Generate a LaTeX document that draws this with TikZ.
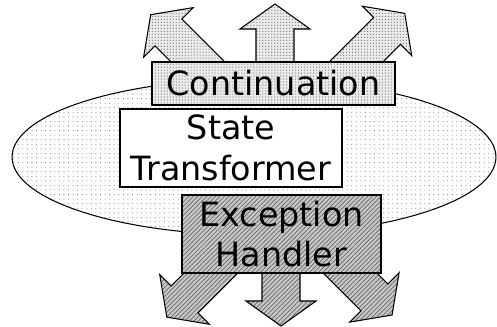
\documentclass[tikz,border=0pt]{standalone}
\usepackage{fontspec}
\setmainfont{DejaVu Sans}
\usetikzlibrary{patterns.meta, shapes.geometric}

\begin{document}
\begin{tikzpicture}[
  x=0.02cm, y=-0.02cm, line width=0.6pt,
  box/.style     = {draw, rectangle, inner sep=0pt, align=center,
                    font=\fontsize{19}{23}\selectfont},
  sparsedots/.style = {pattern={Dots[distance=2.6pt, radius=0.3pt]},
                    pattern color=black!50},
  densedots/.style  = {preaction={fill=black!8},
                    pattern={Dots[distance=1.7pt, radius=0.35pt]},
                    pattern color=black!55},
  hatched/.style    = {preaction={fill=black!22},
                    pattern={Lines[angle=45, distance=1.8pt, line width=0.4pt]},
                    pattern color=black!60},
  pics/fatarrow/.style 2 args = {code={
    \draw[#2] (0,-19) -- (#1-25,-19) -- (#1-25,-35) -- (#1,0)
      -- (#1-25,35) -- (#1-25,19) -- (0,19) -- cycle;}},
]
  \useasboundingbox (0,0) rectangle (497,327);

%--- background: the whole machine ---
  \node[ellipse, draw, sparsedots, minimum width=9.68cm, minimum height=3.12cm]
                                                  (world) at (254,157) {};

%--- fat arrows out of the continuation and the handler ---
  \pic[rotate=90]   at (275,84)  {fatarrow={80}{densedots}};
  \pic[rotate=135]  at (220,84)  {fatarrow={98}{densedots}};
  \pic[rotate=45]   at (334,84)  {fatarrow={100}{densedots}};

  \pic[rotate=-90]  at (281,250) {fatarrow={76}{hatched}};
  \pic[rotate=-135] at (234,250) {fatarrow={95}{hatched}};
  \pic[rotate=-45]  at (327,250) {fatarrow={92}{hatched}};

%--- the three parts ---
  \node[box, densedots, minimum width=4.86cm, minimum height=0.86cm]
                                                  (cont)  at (273.5,83.5) {Continuation};
  \node[box, fill=white, minimum width=4.44cm, minimum height=1.56cm]
                                                  (state) at (231,148)    {State\\Transformer};
  \node[box, hatched, minimum width=3.98cm, minimum height=1.56cm]
                                                  (exc)   at (281.5,234)  {Exception\\Handler};
\end{tikzpicture}
\end{document}
